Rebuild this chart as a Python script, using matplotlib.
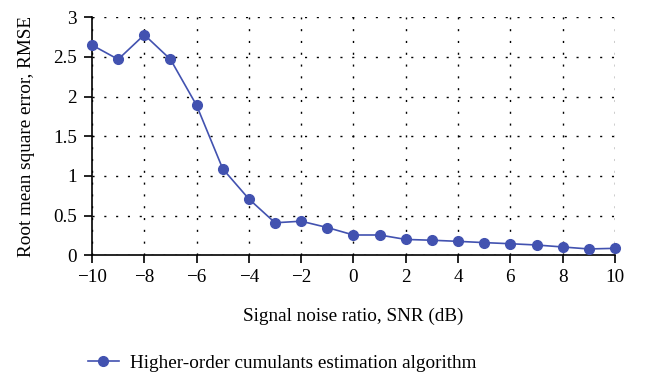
import matplotlib
matplotlib.use("Agg")
import matplotlib.pyplot as plt
from matplotlib.lines import Line2D

snr = [-10, -9, -8, -7, -6, -5, -4, -3, -2, -1, 0, 1, 2, 3, 4, 5, 6, 7, 8, 9, 10]
rmse = [2.65, 2.47, 2.78, 2.47, 1.89, 1.09, 0.71, 0.41, 0.43, 0.35, 0.256, 0.256,
        0.20, 0.19, 0.176, 0.16, 0.146, 0.13, 0.105, 0.08, 0.088]
xticks = [-10, -8, -6, -4, -2, 0, 2, 4, 6, 8, 10]
yticks = [0, 0.5, 1, 1.5, 2, 2.5, 3]
xlabels = ["\u221210", "\u22128", "\u22126", "\u22124", "\u22122", "0", "2", "4", "6", "8", "10"]
ylabels = ["0", "0.5", "1", "1.5", "2", "2.5", "3"]
series_name = "Higher-order cumulants estimation algorithm"

plt.rcParams['font.family'] = ['Liberation Serif', 'DejaVu Serif']
color = "#4252b0"
fs = 13.8

fig = plt.figure(figsize=(6.48, 3.83), dpi=100)
ax = fig.add_axes([0.142, 0.3334, 0.807, 0.6214])
ax.plot(snr, rmse, color=color, marker='o', markersize=7, linewidth=1.2, zorder=3, clip_on=False)
ax.set_xlim(-10, 10)
ax.set_ylim(0, 3)
ax.set_xticks(xticks)
ax.set_xticklabels(xlabels)
ax.set_yticks(yticks)
ax.set_yticklabels(ylabels)
ax.grid(True, color='black', linestyle=(0, (1.5, 7)), linewidth=1.0)
for s in ['top', 'right']:
    ax.spines[s].set_visible(False)
for s in ['left', 'bottom']:
    ax.spines[s].set_linewidth(1.2)
ax.tick_params(axis='both', direction='out', length=6, width=1.2, labelsize=fs, colors='black')
ax.tick_params(axis='y', pad=5)
ax.set_xlabel("Signal noise ratio, SNR (dB)", fontsize=fs, labelpad=16)
ax.set_ylabel("Root mean square error, RMSE", fontsize=fs, labelpad=13)

handle = Line2D([], [], color=color, marker='o', markersize=7, linewidth=1.2)
fig.legend([handle], [series_name], loc='center left', bbox_to_anchor=(0.109, 0.052),
           frameon=False, fontsize=fs, handlelength=1.6, handletextpad=0.6)

fig.savefig("out.png", dpi=100)
